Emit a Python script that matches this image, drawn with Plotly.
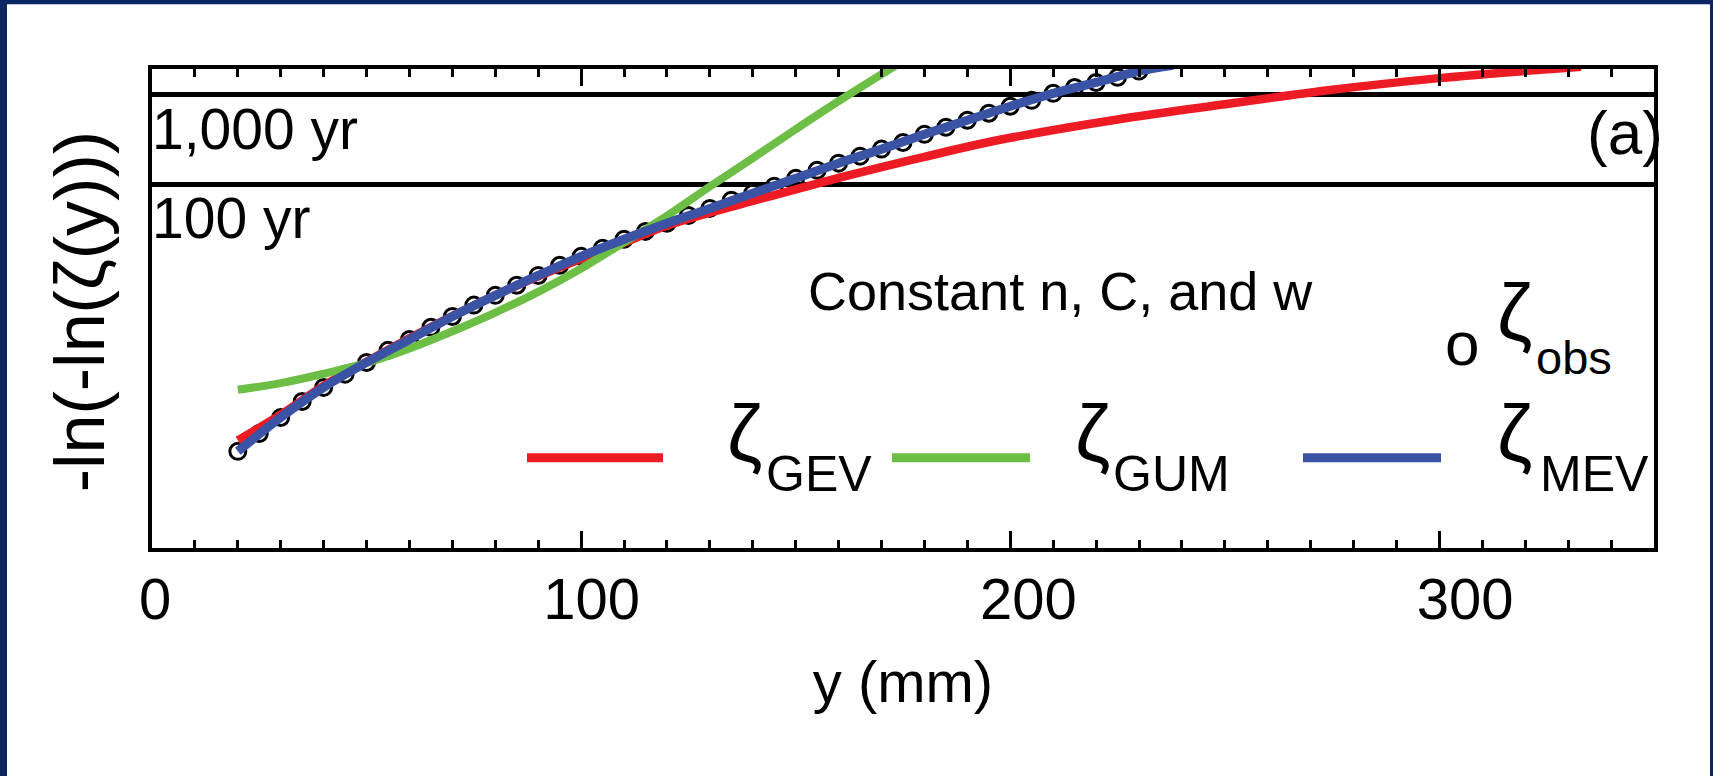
import math
import plotly.graph_objects as go

# ---------------- data ----------------
y_obs_mm = [20, 25, 30, 35, 40, 45, 50, 55, 60, 65, 70, 75, 80, 85, 90, 95, 100,
            105, 110, 115, 120, 125, 130, 135, 140, 145, 150, 155, 160, 165, 170,
            175, 180, 185, 190, 195, 200, 205, 210, 215, 220, 225, 230]
z_obs = [-2.24, -1.78, -1.37, -0.96, -0.60, -0.26, 0.04, 0.35, 0.63, 0.94, 1.22,
         1.51, 1.76, 2.02, 2.27, 2.53, 2.76, 2.97, 3.20, 3.40, 3.61, 3.81, 3.99,
         4.20, 4.38, 4.56, 4.76, 4.97, 5.15, 5.33, 5.51, 5.68, 5.89, 6.07, 6.25,
         6.43, 6.61, 6.76, 6.94, 7.09, 7.22, 7.35, 7.51]

y_mev_mm = [20, 30, 40, 50, 60, 70, 80, 90, 100, 110, 120, 130, 140, 150, 160,
            170, 180, 190, 200, 210, 220, 230, 238]
z_mev = [-2.24, -1.37, -0.60, 0.04, 0.63, 1.22, 1.76, 2.27, 2.76, 3.20, 3.61,
         3.99, 4.38, 4.76, 5.15, 5.51, 5.89, 6.25, 6.61, 6.94, 7.22, 7.51, 7.66]

y_gev_mm = [20, 30, 40, 50, 60, 70, 80, 90, 100, 110, 120, 130, 140, 150, 160,
            170, 180, 190, 200, 225, 250, 275, 300, 333]
z_gev = [-1.96, -1.30, -0.56, 0.06, 0.66, 1.23, 1.76, 2.25, 2.70, 3.11, 3.55,
         3.88, 4.18, 4.48, 4.77, 5.05, 5.31, 5.57, 5.80, 6.27, 6.66, 7.03, 7.33, 7.62]

y_gum_mm = [20, 30, 40, 50, 60, 70, 80, 90, 100, 110, 120, 130, 140, 150, 160, 174]
z_gum = [-0.66, -0.49, -0.25, 0.03, 0.40, 0.84, 1.32, 1.85, 2.45, 3.12, 3.80,
         4.55, 5.28, 6.02, 6.74, 7.70]

return_periods = [100, 1000]
return_labels = ["100 yr", "1,000 yr"]
x_tick_vals = [0, 100, 200, 300]
x_tick_text = ["0", "100", "200", "300"]

# ---------------- styling ----------------
W, H = 1713, 776
PL, PR, PT, PB = 152, 1654, 68.7, 547.7
NAVY = "#0c2461"
RED, GREEN, BLUE = "#ED1C24", "#6CBE45", "#3A53A4"
FONT = "Liberation Sans, Arial, sans-serif"


def px(X):
    return (X - PL) / (PR - PL)


def py(Y):
    return (PB - Y) / (PB - PT)


fig = go.Figure()
fig.add_trace(go.Scatter(x=y_obs_mm, y=z_obs, mode="markers",
                         marker=dict(symbol="circle-open", size=16, color="black",
                                     line=dict(width=3, color="black")),
                         showlegend=False, hoverinfo="skip"))
fig.add_trace(go.Scatter(x=y_gev_mm, y=z_gev, mode="lines", line=dict(color=RED, width=8.5, shape="spline"),
                         showlegend=False))
fig.add_trace(go.Scatter(x=y_gum_mm, y=z_gum, mode="lines", line=dict(color=GREEN, width=8, shape="spline"),
                         showlegend=False))
fig.add_trace(go.Scatter(x=y_mev_mm, y=z_mev, mode="lines", line=dict(color=BLUE, width=9, shape="spline"),
                         showlegend=False))
# helper trace so that the tick-label axis exists
fig.add_trace(go.Scatter(x=[], y=[], xaxis="x2", showlegend=False))

shapes = [dict(type="rect", xref="paper", yref="paper", x0=px(7), x1=px(1710),
               y0=py(776), y1=py(4), fillcolor="white", line=dict(width=0), layer="below")]
for T in return_periods:
    zr = -math.log(-math.log(1 - 1 / T))
    shapes.append(dict(type="line", xref="paper", yref="y", x0=0, x1=1, y0=zr, y1=zr,
                       line=dict(color="black", width=5), layer="below"))
# legend keys
for (x0, x1, c) in [(527, 663, RED), (892, 1030, GREEN), (1303, 1441, BLUE)]:
    shapes.append(dict(type="line", xref="paper", yref="paper", x0=px(x0), x1=px(x1),
                       y0=py(457.5), y1=py(457.5), line=dict(color=c, width=9)))

ann = []


def A(text, X, Y, xa="left", size=58, angle=0):
    ann.append(dict(text=text, x=px(X), y=py(Y), xref="paper", yref="paper",
                    xanchor=xa, yanchor="middle", showarrow=False, borderpad=0,
                    textangle=angle, font=dict(family=FONT, size=size, color="black")))


A(return_labels[1], 151, 128.5, size=57)
A(return_labels[0], 151, 217.5, size=57)
A("(a)", 1664, 132, xa="right", size=62)
A("Constant n, C, and w", 807, 291, size=54)
A("o", 1444, 343, size=62)
A("ζ", 1496, 312, size=80)
A("obs", 1535, 357, size=47)
# legend labels
for zx, sx, sub in [(726, 765, "GEV"), (1074, 1112, "GUM"), (1496, 1539, "MEV")]:
    A("ζ", zx, 433, size=80)
    A(sub, sx, 474, size=50)
# y-axis title
A("-ln(-ln(ζ(y)))", 80, 312, xa="center", size=70, angle=-90)

fig.update_layout(
    width=W, height=H,
    margin=dict(l=PL, r=W - PR, t=PT, b=H - PB, pad=0),
    paper_bgcolor=NAVY, plot_bgcolor="rgba(0,0,0,0)",
    shapes=shapes, annotations=ann, showlegend=False,
    xaxis=dict(range=[0, 350], showline=True, linewidth=4, linecolor="black", mirror="ticks",
               ticks="inside", ticklen=17, tickwidth=3, tickcolor="black", dtick=100, tick0=0,
               minor=dict(dtick=10, ticks="inside", ticklen=8, tickwidth=3, tickcolor="black", showgrid=False),
               showticklabels=False, showgrid=False, zeroline=False,
               title=dict(text="y (mm)", font=dict(family=FONT, size=58, color="black"), standoff=111)),
    xaxis2=dict(overlaying="x", anchor="y", side="bottom", range=[-0.687, 343.27],
                tickvals=x_tick_vals, ticktext=x_tick_text, ticks="", showline=False,
                showgrid=False, zeroline=False, ticklabelstandoff=12,
                tickfont=dict(family=FONT, size=58, color="black")),
    yaxis=dict(range=[-4.718, 7.564], showline=True, linewidth=4, linecolor="black", mirror=True,
               ticks="", showticklabels=False, showgrid=False, zeroline=False),
)

fig.write_html("out.html")
